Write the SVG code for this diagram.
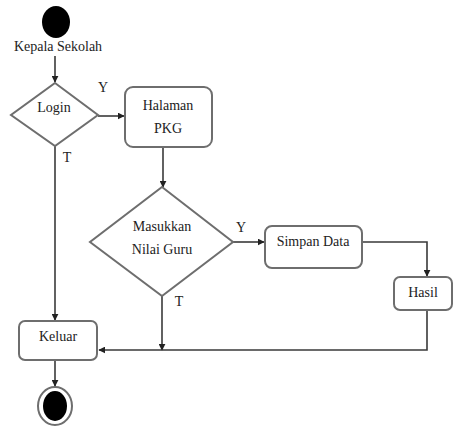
<svg xmlns="http://www.w3.org/2000/svg" width="453" height="430" viewBox="0 0 453 430">
<style>
.n{fill:#fff;stroke:#6e6e6e;stroke-width:2}
.t{font-family:"Liberation Serif","Times New Roman","DejaVu Serif",serif;font-size:14px;fill:#222;text-anchor:middle}
.c{fill:none;stroke:#3a3a3a;stroke-width:1.6}
</style>
<defs>
<marker id="a" viewBox="0 0 10 10" refX="9" refY="5" markerWidth="7" markerHeight="7" markerUnits="userSpaceOnUse" orient="auto">
<path d="M0,0L10,5L0,10z" fill="#222"/>
</marker>
</defs>
<rect width="453" height="430" fill="#fff"/>
<g id="connectors">
<path class="c" d="M55,56V82" marker-end="url(#a)"/>
<path class="c" d="M98,116H124" marker-end="url(#a)"/>
<path class="c" d="M55,146V320" marker-end="url(#a)"/>
<path class="c" d="M163,148V187" marker-end="url(#a)"/>
<path class="c" d="M233,242H264" marker-end="url(#a)"/>
<path class="c" d="M362,242H427V276" marker-end="url(#a)"/>
<path class="c" d="M162,296V350" marker-end="url(#a)"/>
<path class="c" d="M427,310V350H99" marker-end="url(#a)"/>
<path class="c" d="M55,360V386" marker-end="url(#a)"/>
</g>
<g id="start">
<ellipse cx="56" cy="22" rx="14" ry="16" fill="#000"/>
<text class="t" x="58" y="51">Kepala Sekolah</text>
</g>
<g id="login">
<polygon class="n" points="55,83 98,115 55,146 11,115"/>
<text class="t" x="54" y="112">Login</text>
<text class="t" x="103" y="92">Y</text>
<text class="t" x="67" y="162">T</text>
</g>
<g id="halaman">
<rect class="n" x="125" y="87" width="87" height="60" rx="8"/>
<text class="t" x="168" y="110">Halaman</text>
<text class="t" x="168" y="133">PKG</text>
</g>
<g id="masukkan">
<polygon class="n" points="162,187 233,242 162,296 90,242"/>
<text class="t" x="162" y="231">Masukkan</text>
<text class="t" x="162" y="254">Nilai Guru</text>
<text class="t" x="241" y="232">Y</text>
<text class="t" x="179" y="306">T</text>
</g>
<g id="simpan">
<rect class="n" x="265" y="226" width="97" height="42" rx="7"/>
<text class="t" x="313" y="246">Simpan Data</text>
</g>
<g id="hasil">
<rect class="n" x="394" y="277" width="58" height="33" rx="6"/>
<text class="t" x="423" y="297">Hasil</text>
</g>
<g id="keluar">
<rect class="n" x="19" y="321" width="78" height="39" rx="6"/>
<text class="t" x="58" y="341">Keluar</text>
</g>
<g id="end">
<ellipse cx="55" cy="406" rx="17" ry="19" fill="#fff" stroke="#6e6e6e" stroke-width="2"/>
<ellipse cx="55" cy="406" rx="12" ry="15" fill="#000"/>
</g>
</svg>
